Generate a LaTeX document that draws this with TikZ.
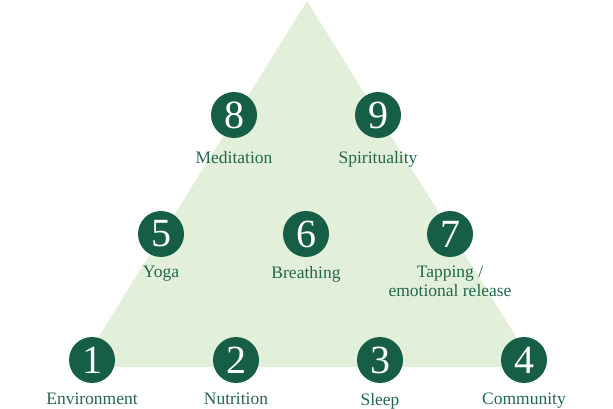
\documentclass[tikz,border=0pt]{standalone}
\usepackage{fontspec}
\setmainfont{Liberation Serif}
\usetikzlibrary{positioning}
\definecolor{pine}{HTML}{175E46}
\definecolor{pinetext}{HTML}{24674D}
\definecolor{sage}{HTML}{E2EFD9}

\begin{document}
\begin{tikzpicture}[x=1pt,y=-1pt,
  badge/.style={circle,fill=pine,text=white,minimum size=46pt,inner sep=0pt,
    font=\fontsize{40}{40}\selectfont},
  caption/.style={text=pinetext,align=center,inner sep=0pt,
    font=\fontsize{17.5}{19}\selectfont}]
  \useasboundingbox (0,0) rectangle (613,409);
  \fill[sage] (307,1) -- (80,367) -- (535,367) -- cycle;
  \foreach \n/\x/\y in {1/92/360,2/236/360,3/380/360,4/524/360,
                        5/161/234,6/306/234,7/450/234,8/234/115,9/378/115}
    \node[badge] (b\n) at (\x,\y) {\n};
  \node[caption,below=13pt of b8] (t8) {Meditation};
  \node[caption,below=13pt of b9] (t9) {Spirituality};
  \node[caption,below=9pt of b5] (t5) {Yoga};
  \node[caption,below=9pt of b6] (t6) {Breathing};
  \node[caption,below=9pt of b7] (t7) {Tapping /\\emotional release};
  \node[caption,below=10pt of b1] (t1) {Environment};
  \node[caption,below=10pt of b2] (t2) {Nutrition};
  \node[caption,below=10pt of b3] (t3) {Sleep};
  \node[caption,below=10pt of b4] (t4) {Community};
\end{tikzpicture}
\end{document}
